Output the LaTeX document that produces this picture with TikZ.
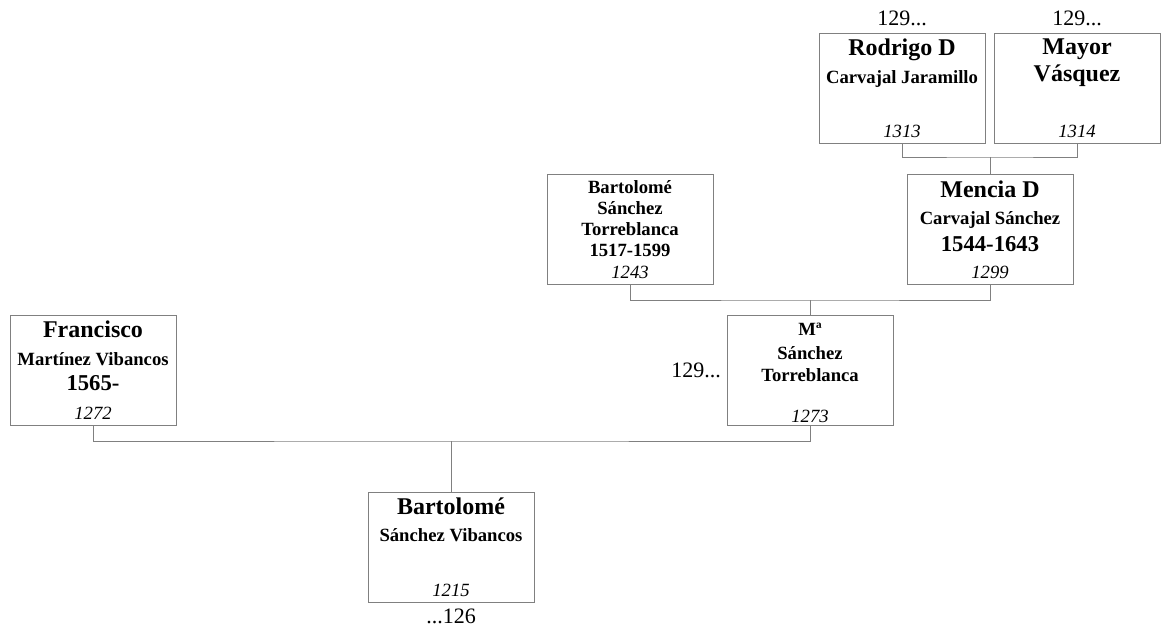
\documentclass[tikz,border=0pt]{standalone}
\usepackage{fontspec}
\setmainfont{Liberation Serif}
\usetikzlibrary{positioning}
\definecolor{treegrey}{HTML}{808080}
\newcommand{\bigname}{\fontsize{18}{21}\selectfont}
\newcommand{\datesize}{\fontsize{17}{20}\selectfont}
\tikzset{
  x=0.75pt,y=-0.75pt,
  person/.style={draw=treegrey,line width=0.75pt,minimum width=124.5pt,
                 minimum height=82.5pt,inner sep=0pt},
  nm/.style={font=\fontsize{14}{15.5}\selectfont\bfseries,align=center,inner sep=0pt},
  idx/.style={font=\fontsize{14}{16}\selectfont\itshape,inner sep=0pt},
  tag/.style={font=\fontsize{16.5}{18}\selectfont,inner sep=0pt},
  link/.style={draw=treegrey,line width=0.75pt},
}
\begin{document}
\begin{tikzpicture}
  \useasboundingbox (0,0) rectangle (1166,628);

  % grandparents
  \node[person] (rod) at (902,88) {};
  \node[person] (may) at (1077,88) {};
  \node[nm,below=4.5pt of rod.north] (rodN) {{\bigname Rodrigo D}\\[5.5pt]Carvajal Jaramillo};
  \node[idx,above=4.5pt of rod.south] (rodI) {1313};
  \node[nm,below=4.5pt of may.north] (mayN) {{\bigname Mayor}\\[3pt]{\bigname Vásquez}};
  \node[idx,above=4.5pt of may.south] (mayI) {1314};
  \node[tag,above=4.5pt of rod.north] (rodT) {129...};
  \node[tag,above=4.5pt of may.north] (mayT) {129...};

  % parents of Mª
  \node[person] (bst) at (630,229) {};
  \node[person] (men) at (990,229) {};
  \node[nm,below=5pt of bst.north] (bstN) {Bartolomé\\Sánchez\\[0.5pt]Torreblanca\\1517-1599};
  \node[idx,above=4.5pt of bst.south] (bstI) {1243};
  \node[nm,below=5.5pt of men.north] (menN) {{\bigname Mencia D}\\[4.75pt]Carvajal Sánchez\\[4.75pt]{\datesize 1544-1643}};
  \node[idx,above=4.5pt of men.south] (menI) {1299};

  % parents
  \node[person] (fra) at (93,370.5) {};
  \node[person] (ma) at (810,370.5) {};
  \node[nm,below=4.5pt of fra.north] (fraN) {{\bigname Francisco}\\[5.5pt]Martínez Vibancos\\[3.25pt]{\datesize 1565-}};
  \node[idx,above=5pt of fra.south] (fraI) {1272};
  \node[nm,below=5.5pt of ma.north] (maN) {Mª\\[2.5pt]Sánchez\\[1.5pt]Torreblanca};
  \node[idx,above=2.5pt of ma.south] (maI) {1273};
  \node[tag,left=4pt of ma.west] (maT) {129...};

  % child
  \node[person] (bsv) at (451,547) {};
  \node[nm,below=4.5pt of bsv.north] (bsvN) {{\bigname Bartolomé}\\[4.75pt]Sánchez Vibancos};
  \node[idx,above=4.5pt of bsv.south] (bsvI) {1215};
  \node[tag,below=4.5pt of bsv.south] (bsvT) {...126};

  % family lines
  \coordinate (rm) at (990,157);
  \draw[link] (rod.south) |- (rm) -| (may.south);
  \draw[link] (rm) -- (men.north);
  \coordinate (bm) at (810,300);
  \draw[link] (bst.south) |- (bm) -| (men.south);
  \draw[link] (bm) -- (ma.north);
  \coordinate (fm) at (451,441);
  \draw[link] (fra.south) |- (fm) -| (ma.south);
  \draw[link] (fm) -- (bsv.north);
\end{tikzpicture}
\end{document}
